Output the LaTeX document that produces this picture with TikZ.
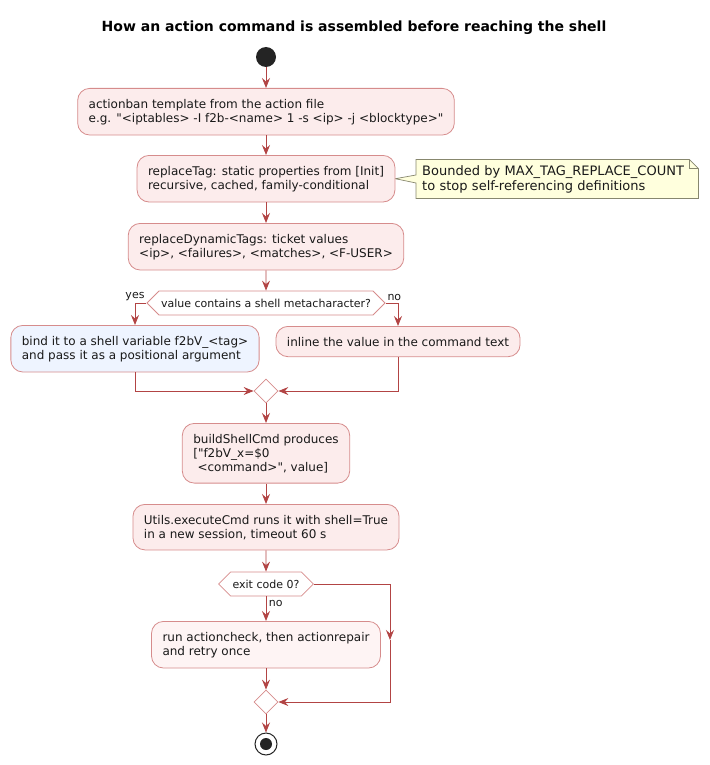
\documentclass[tikz,border=0pt]{standalone}
\usepackage{fontspec}
\setmainfont{DejaVu Sans}[Ligatures=TeXOff]
\usepackage{tikz}
\usetikzlibrary{shapes,arrows.meta,backgrounds}
\definecolor{actfill}{RGB}{252,236,236}
\definecolor{actline}{RGB}{214,140,140}
\definecolor{flowred}{RGB}{178,68,68}
\definecolor{bluefill}{RGB}{238,244,255}
\definecolor{palefill}{RGB}{254,244,244}
\definecolor{notefill}{RGB}{255,255,221}
\definecolor{notedraw}{RGB}{135,135,110}
\tikzstyle{act}=[rectangle, rounded corners=12pt, draw=actline, fill=actfill, line width=0.8pt, align=left, inner xsep=11pt, inner ysep=10.5pt, font=\fontsize{12}{14}\selectfont, text=black!90]
\tikzstyle{act_blue}=[act, fill=bluefill]
\tikzstyle{act_pale}=[act, fill=palefill]
\tikzstyle{cond}=[signal, signal to=east and west, signal pointer angle=90, draw=actline, fill=white, line width=0.8pt, minimum height=24pt, inner xsep=2pt, inner ysep=0pt, font=\fontsize{11}{13}\selectfont, text=black!90]
\tikzstyle{merge}=[diamond, draw=actline, fill=white, line width=0.8pt, minimum width=24pt, minimum height=24pt, inner sep=0pt]
\tikzstyle{lbl}=[font=\fontsize{11}{13}\selectfont, text=black!90, inner sep=1.5pt]
\tikzstyle{flow}=[draw=flowred, line width=0.9pt, -{Stealth[length=10pt, width=8pt, inset=3.5pt]}]
\tikzstyle{notebox}=[align=left, text width=270pt, inner xsep=6pt, inner ysep=5.5pt, font=\fontsize{13}{15}\selectfont, text=black!90]

\begin{document}
\begin{tikzpicture}[x=1pt, y=-1pt]
  \useasboundingbox (0,0) rectangle (709,765);

  % title
  \node[font=\bfseries\fontsize{14}{16}\selectfont] (title) at (354,28) {How an action command is assembled before reaching the shell};

  % start and the tag replacement steps
  \node[circle, fill=black!86, minimum size=20pt, inner sep=0pt] (start) at (266,57) {};
  \node[act, anchor=north] (template) at (266,88) {actionban template from the action file\\e.g. "<iptables> -I f2b-<name> 1 -s <ip> -j <blocktype>"};
  \node[act, anchor=north] (tagrep) at (266,155) {replaceTag: static properties from [Init]\\recursive, cached, family-conditional};
  \node[act, anchor=north] (dyntags) at (266,223) {replaceDynamicTags: ticket values\\<ip>, <failures>, <matches>, <F-USER>};

  % note on replaceTag
  \node[notebox, anchor=west] (tagnote) at (416,179) {Bounded by MAX\_TAG\_REPLACE\_COUNT\\to stop self-referencing definitions};
  \begin{scope}[on background layer]
    \filldraw[fill=notefill, draw=notedraw, line width=0.7pt]
      (tagnote.north west) -- ([xshift=-9pt]tagnote.north east) -- ([yshift=-9pt]tagnote.north east)
      -- (tagnote.south east) -- (tagnote.south west) -- ([yshift=-4pt]tagnote.west)
      -- (tagrep.east) -- ([yshift=4pt]tagnote.west) -- cycle;
    \draw[draw=notedraw, line width=0.7pt] ([xshift=-9pt]tagnote.north east) -- ([xshift=-9pt, yshift=-9pt]tagnote.north east) -- ([yshift=-9pt]tagnote.north east);
  \end{scope}

  % metacharacter check
  \node[cond] (meta) at (266,303) {value contains a shell metacharacter?};
  \node[act_blue, anchor=north] (bindvar) at (135,325) {bind it to a shell variable f2bV\_<tag>\\and pass it as a positional argument};
  \node[act, anchor=north] (inline) at (398,326) {inline the value in the command text};
  \node[merge] (join1) at (266,391) {};

  % building and running the command
  \node[act, anchor=north] (buildcmd) at (266,423) {buildShellCmd produces\\{}["f2bV\_x=\$0\\\hspace*{0.35em}<command>", value]};
  \node[act, anchor=north] (execcmd) at (266,504) {Utils.executeCmd runs it with shell=True\\in a new session, timeout 60 s};
  \node[cond] (exitcode) at (266,584) {exit code 0?};
  \node[act_pale, anchor=north] (repair) at (266,621) {run actioncheck, then actionrepair\\and retry once};
  \node[merge] (join2) at (266,702) {};
  \node[circle, draw=black!86, fill=white, line width=1pt, minimum size=22pt, inner sep=0pt] (stop) at (266,744) {};
  \fill[black!86] (stop) circle (6pt);
  \coordinate (skip) at (390,640);

  % straight connectors
  \foreach \a/\b in {start/template, template/tagrep, tagrep/dyntags, dyntags/meta, join1/buildcmd, buildcmd/execcmd, execcmd/exitcode, repair/join2, join2/stop}
    \draw[flow] (\a) -- (\b);

  % branches
  \draw[flow] (meta.west) -| node[pos=0, lbl, anchor=south east] {yes} (bindvar.north);
  \draw[flow] (meta.east) -| node[pos=0, lbl, anchor=south west] {no} (inline.north);
  \draw[flow] (bindvar.south) |- (join1.west);
  \draw[flow] (inline.south) |- (join1.east);
  \draw[flow] (exitcode) -- node[pos=0.3, lbl, anchor=west, xshift=1pt] {no} (repair);
  \draw[flow] (exitcode.east) -| (skip);
  \draw[flow] (skip) |- (join2.east);
\end{tikzpicture}
\end{document}
